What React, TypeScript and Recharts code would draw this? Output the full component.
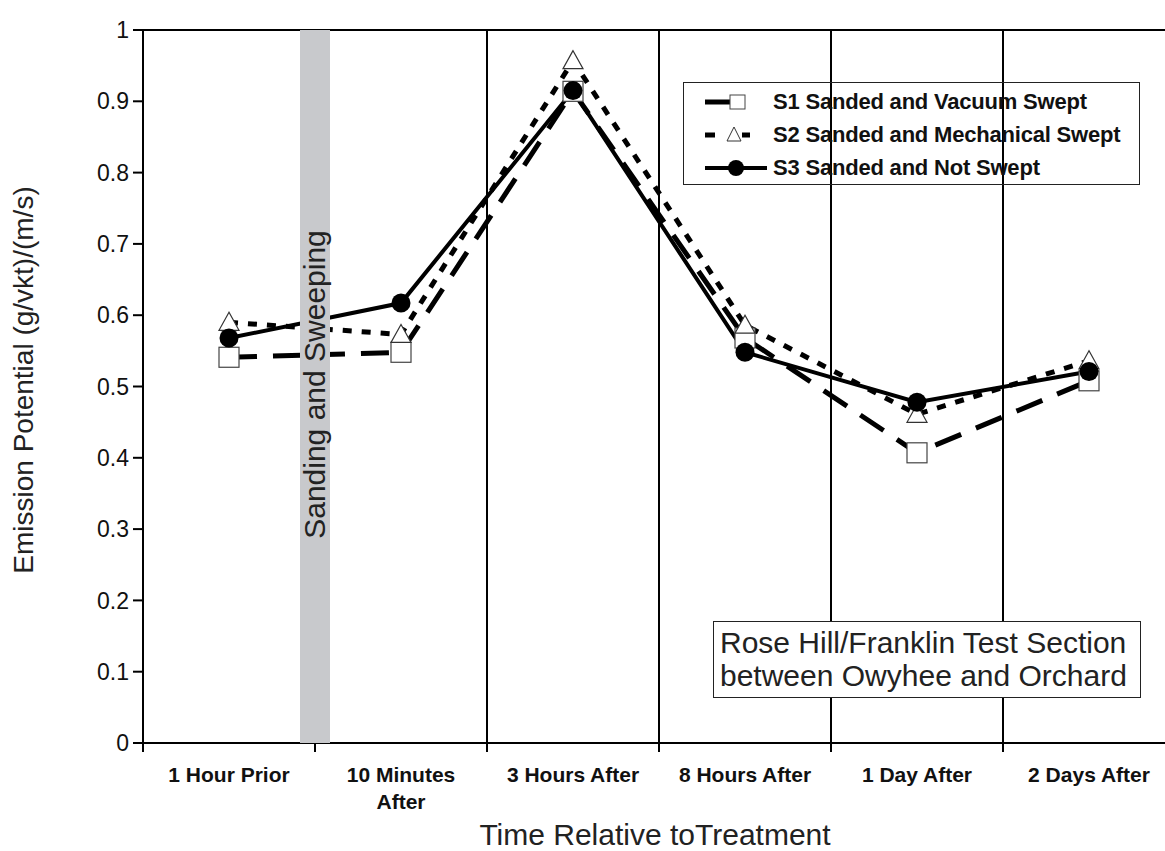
import React from "react";
import {
  ComposedChart,
  Line,
  XAxis,
  YAxis,
  Legend,
  ReferenceLine,
} from "recharts";

const categories = [
  "1 Hour Prior",
  "10 Minutes\nAfter",
  "3 Hours After",
  "8 Hours After",
  "1 Day After",
  "2 Days After",
];
const s1Values = [0.541, 0.548, 0.914, 0.568, 0.407, 0.508];
const s2Values = [0.59, 0.573, 0.957, 0.586, 0.461, 0.536];
const s3Values = [0.568, 0.617, 0.915, 0.548, 0.478, 0.521];
const yTicks = [0, 0.1, 0.2, 0.3, 0.4, 0.5, 0.6, 0.7, 0.8, 0.9, 1];
const seriesNames = {
  s1: "S1 Sanded and Vacuum Swept",
  s2: "S2 Sanded and Mechanical Swept",
  s3: "S3 Sanded and Not Swept",
};

const data = categories.map((cat, i) => ({
  cat,
  s1: s1Values[i],
  s2: s2Values[i],
  s3: s3Values[i],
}));

const FONT = "'Liberation Sans', Arial, Helvetica, sans-serif";
const TICK_SIZE = 8;

const Square = (props: any) => {
  const { cx, cy, index } = props;
  if (cx == null || cy == null) return <g key={`sq-${index}`} />;
  return (
    <rect
      key={`sq-${index}`}
      x={cx - 10}
      y={cy - 10}
      width={20}
      height={20}
      fill="#fff"
      stroke="#444"
      strokeWidth={1.2}
    />
  );
};

const Triangle = (props: any) => {
  const { cx, cy, index } = props;
  if (cx == null || cy == null) return <g key={`tr-${index}`} />;
  return (
    <polygon
      key={`tr-${index}`}
      points={`${cx},${cy - 10} ${cx - 10},${cy + 8} ${cx + 10},${cy + 8}`}
      fill="#fff"
      stroke="#333"
      strokeWidth={1.2}
    />
  );
};

const Dot = (props: any) => {
  const { cx, cy, index } = props;
  if (cx == null || cy == null) return <g key={`ci-${index}`} />;
  return <circle key={`ci-${index}`} cx={cx} cy={cy} r={9.5} fill="#000" />;
};

// category labels, plus the small tick marks that sit between categories
const CatTick = (props: any) => {
  const { x, y, payload, index, width, visibleTicksCount } = props;
  const lines = String(payload.value).split("\n");
  const band = width / (visibleTicksCount || categories.length);
  const axisY = y - TICK_SIZE;
  const last = index === (visibleTicksCount || categories.length) - 1;
  return (
    <g>
      <line
        x1={x - band / 2}
        x2={x - band / 2}
        y1={axisY}
        y2={axisY + 9}
        stroke="#000"
        strokeWidth={2}
      />
      {last && (
        <line
          x1={x + band / 2}
          x2={x + band / 2}
          y1={axisY}
          y2={axisY + 9}
          stroke="#000"
          strokeWidth={2}
        />
      )}
      <text
        x={x}
        y={y}
        textAnchor="middle"
        fontFamily={FONT}
        fontSize={21}
        fontWeight="bold"
        fill="#111"
      >
        {lines.map((l, i) => (
          <tspan key={i} x={x} dy={i === 0 ? 31 : 27}>
            {l}
          </tspan>
        ))}
      </text>
    </g>
  );
};

const legendSample = (key: string) => {
  if (key === "s1")
    return (
      <svg width={64} height={20}>
        <line x1={0} y1={10} x2={25} y2={10} stroke="#000" strokeWidth={5} />
        <rect x={25} y={3} width={15} height={14} fill="#fff" stroke="#444" />
      </svg>
    );
  if (key === "s2")
    return (
      <svg width={64} height={20}>
        <line x1={0} y1={10} x2={10} y2={10} stroke="#000" strokeWidth={5} />
        <polygon points="29,2 22,16 36,16" fill="#fff" stroke="#333" />
        <line x1={37} y1={10} x2={45} y2={10} stroke="#000" strokeWidth={5} />
      </svg>
    );
  return (
    <svg width={64} height={20}>
      <line x1={0} y1={10} x2={62} y2={10} stroke="#000" strokeWidth={4} />
      <circle cx={31} cy={10} r={8} fill="#000" />
    </svg>
  );
};

const LegendBox = () => (
  <div
    style={{
      width: 457,
      height: 103,
      boxSizing: "border-box",
      border: "1.5px solid #222",
      paddingTop: 2,
      paddingLeft: 21,
      fontFamily: FONT,
    }}
  >
    {(["s1", "s2", "s3"] as const).map((k) => (
      <div
        key={k}
        style={{ display: "flex", alignItems: "center", height: 33 }}
      >
        {legendSample(k)}
        <span
          style={{
            marginLeft: 4,
            fontSize: 22,
            fontWeight: "bold",
            color: "#111",
            letterSpacing: -0.2,
            whiteSpace: "nowrap",
          }}
        >
          {seriesNames[k]}
        </span>
      </div>
    ))}
  </div>
);

export default function App() {
  return (
    <div
      style={{
        position: "fixed",
        left: 0,
        top: 0,
        width: 1165,
        height: 851,
        overflow: "hidden",
        background: "#fff",
      }}
    >
      <div style={{ position: "relative", width: 1190, height: 851 }}>
        <ComposedChart
          width={1190}
          height={851}
          data={data}
          margin={{ top: 30, right: 15, left: 0, bottom: 0 }}
        >
          <XAxis
            dataKey="cat"
            scale="band"
            height={108}
            tickLine={false}
            axisLine={{ stroke: "#000", strokeWidth: 2 }}
            tick={<CatTick />}
            interval={0}
            tickSize={TICK_SIZE}
            tickMargin={0}
            label={{
              content: () => (
                <text
                  x={655}
                  y={845}
                  textAnchor="middle"
                  fontFamily={FONT}
                  fontSize={30}
                  fill="#222"
                >
                  Time Relative toTreatment
                </text>
              ),
            }}
          />
          <YAxis
            domain={[0, 1]}
            ticks={yTicks}
            interval={0}
            width={143}
            tickSize={10}
            tickMargin={4}
            axisLine={{ stroke: "#000", strokeWidth: 2 }}
            tickLine={{ stroke: "#000", strokeWidth: 2 }}
            tick={{ fill: "#111", fontSize: 23, fontFamily: FONT }}
            tickFormatter={(v: number) =>
              v === 0 ? "0" : v === 1 ? "1" : v.toFixed(1)
            }
            label={{
              content: () => (
                <text
                  transform="translate(33,380) rotate(-90)"
                  textAnchor="middle"
                  fontFamily={FONT}
                  fontSize={28}
                  fill="#222"
                >
                  Emission Potential (g/vkt)/(m/s)
                </text>
              ),
            }}
          />
          <ReferenceLine y={1} stroke="#000" strokeWidth={2} />
          {categories.slice(2).map((c) => (
            <ReferenceLine
              key={c}
              x={c}
              position="start"
              stroke="#000"
              strokeWidth={2}
            />
          ))}

          <Line
            dataKey="s1"
            name={seriesNames.s1}
            stroke="#000"
            strokeWidth={5}
            strokeDasharray="28 16"
            dot={Square}
            activeDot={false}
            isAnimationActive={false}
          />
          <Line
            dataKey="s2"
            name={seriesNames.s2}
            stroke="#000"
            strokeWidth={5}
            strokeDasharray="9 10"
            dot={Triangle}
            activeDot={false}
            isAnimationActive={false}
          />
          <Line
            dataKey="s3"
            name={seriesNames.s3}
            stroke="#000"
            strokeWidth={4}
            dot={Dot}
            activeDot={false}
            isAnimationActive={false}
          />
          {/* treatment marker between the first two categories */}
          <ReferenceLine
            x={categories[0]}
            position="end"
            stroke="#c8c9cc"
            strokeWidth={30}
            zIndex={1000}
            label={{
              content: (p: any) => {
                const vb = p.viewBox || {};
                const cx = vb.x ?? 315;
                const cy =
                  vb.height != null ? vb.y + vb.height / 2 : 386;
                return (
                  <text
                    transform={`translate(${cx + 10},${cy - 2}) rotate(-90)`}
                    textAnchor="middle"
                    fontFamily={FONT}
                    fontSize={30}
                    fill="#222"
                  >
                    Sanding and Sweeping
                  </text>
                );
              },
            }}
          />
          <Legend
            layout="horizontal"
            verticalAlign="middle"
            align="center"
            wrapperStyle={{ left: 683, top: 82, width: 457, height: 103 }}
            content={() => <LegendBox />}
          />
        </ComposedChart>
        <div
          style={{
            position: "absolute",
            left: 713,
            top: 621,
            width: 428,
            height: 77,
            boxSizing: "border-box",
            border: "1.5px solid #222",
            background: "#fff",
            fontFamily: FONT,
            fontSize: 30,
            lineHeight: "33px",
            color: "#222",
            paddingLeft: 6,
            paddingTop: 4,
            whiteSpace: "nowrap",
          }}
        >
          Rose Hill/Franklin Test Section
          <br />
          between Owyhee and Orchard
        </div>
      </div>
    </div>
  );
}
